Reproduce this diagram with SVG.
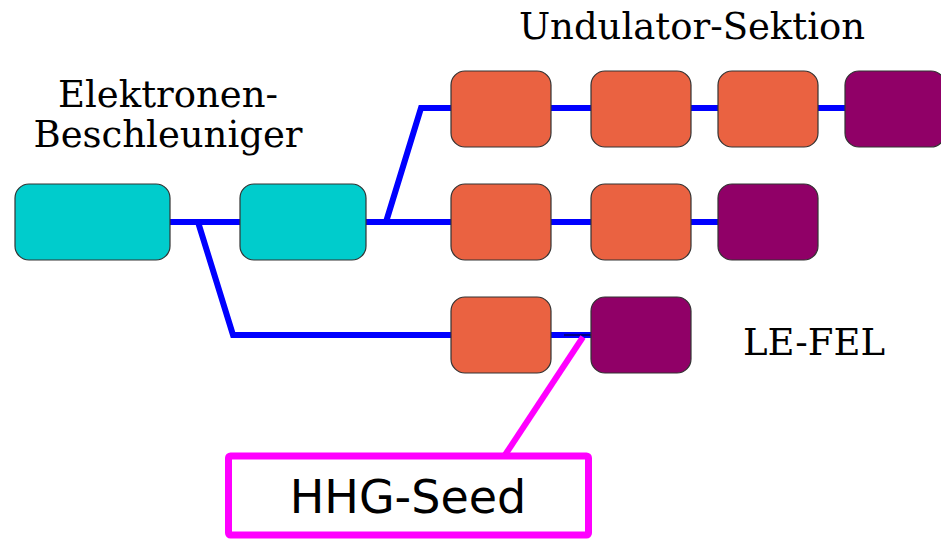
<svg xmlns="http://www.w3.org/2000/svg" width="941" height="539" viewBox="0 0 941 539">
<style>
.box{stroke:#333;stroke-width:1.2}
.acc{fill:#00cccc}
.und{fill:#ea6241}
.rad{fill:#900067}
.beam{fill:none;stroke:#0000ff;stroke-width:6}
.seed{fill:none;stroke:#ff00ff;stroke-width:6}
.lbl{font-family:"DejaVu Serif",serif;font-size:37px;fill:#000}
</style>
<g id="connectors">
<polyline class="beam" points="170,222 240,222"/>
<polyline class="beam" points="198,222 233,335 451,335"/>
<polyline class="beam" points="366,222 451,222"/>
<polyline class="beam" points="386,222 421,108 451,108"/>
<line class="beam" x1="551" y1="108" x2="591" y2="108"/>
<line class="beam" x1="691" y1="108" x2="718" y2="108"/>
<line class="beam" x1="818" y1="108" x2="845" y2="108"/>
<line class="beam" x1="551" y1="222" x2="591" y2="222"/>
<line class="beam" x1="691" y1="222" x2="718" y2="222"/>
<line class="beam" x1="551" y1="335" x2="591" y2="335"/>
<line x1="564" y1="335" x2="598" y2="335" stroke="#000" stroke-width="1"/>
<line class="seed" x1="583" y1="337" x2="505" y2="455"/>
</g>
<g id="acc1"><rect class="box acc" x="15" y="184" width="155" height="76" rx="14"/></g>
<g id="acc2"><rect class="box acc" x="240" y="184" width="126" height="76" rx="14"/></g>
<g id="u1a"><rect class="box und" x="451" y="71" width="100" height="76" rx="14"/></g>
<g id="u1b"><rect class="box und" x="591" y="71" width="100" height="76" rx="14"/></g>
<g id="u1c"><rect class="box und" x="718" y="71" width="100" height="76" rx="14"/></g>
<g id="r1"><rect class="box rad" x="845" y="71" width="100" height="76" rx="14"/></g>
<g id="u2a"><rect class="box und" x="451" y="184" width="100" height="76" rx="14"/></g>
<g id="u2b"><rect class="box und" x="591" y="184" width="100" height="76" rx="14"/></g>
<g id="r2"><rect class="box rad" x="718" y="184" width="100" height="76" rx="14"/></g>
<g id="u3a"><rect class="box und" x="451" y="297" width="100" height="76" rx="14"/></g>
<g id="r3"><rect class="box rad" x="591" y="297" width="100" height="76" rx="14"/></g>
<g id="hhg">
<rect x="228.5" y="456" width="360" height="79" fill="#fff" stroke="#ff00ff" stroke-width="7" rx="2"/>
<text x="408" y="513" text-anchor="middle" font-family="DejaVu Sans, sans-serif" font-size="46">HHG-Seed</text>
</g>
<g id="labels">
<text class="lbl" x="692" y="39" text-anchor="middle">Undulator-Sektion</text>
<text class="lbl" x="168" y="107" text-anchor="middle">Elektronen-</text>
<text class="lbl" x="168" y="147" text-anchor="middle">Beschleuniger</text>
<text class="lbl" x="814" y="355" text-anchor="middle">LE-FEL</text>
</g>
</svg>
